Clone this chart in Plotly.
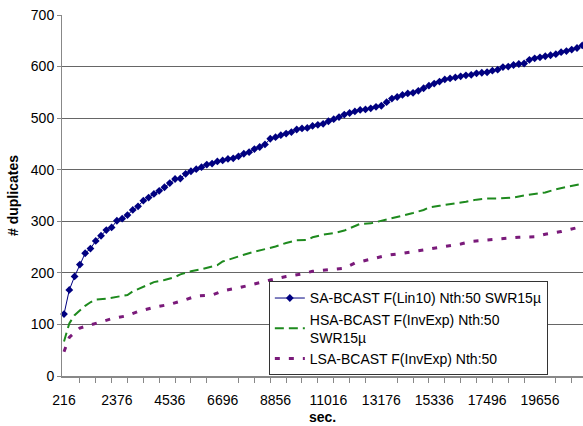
import plotly.graph_objects as go

STEP = 216

# SA-BCAST: one value per category (216 s steps, k = 1..99)
sa_values = [120, 167, 193, 216, 238, 247, 262, 272, 283, 288,
             301, 305, 312, 322, 329, 340, 346, 353, 359, 366,
             374, 382, 383, 392, 397, 401, 405, 410, 412, 416,
             418, 421, 422, 426, 431, 434, 440, 444, 449, 460,
             463, 467, 470, 473, 478, 480, 481, 485, 487, 489,
             494, 498, 502, 507, 510, 513, 516, 517, 519, 522,
             524, 531, 538, 541, 545, 548, 549, 553, 558, 563,
             567, 571, 575, 577, 579, 581, 583, 584, 587, 588,
             589, 592, 594, 599, 600, 603, 605, 606, 613, 616,
             618, 620, 622, 624, 628, 630, 633, 636, 641]
sa_x = [STEP * (i + 1) for i in range(len(sa_values))]

# HSA-BCAST: (category index, value)
hsa_k = [1, 2, 3, 5, 6, 7, 9, 11, 13, 14, 16, 18, 20, 22, 23, 25, 27, 30, 31, 33,
         35, 37, 39, 41, 43, 45, 47, 48, 50, 52, 54, 56, 57, 59, 61, 63, 65, 67, 69, 70,
         72, 75, 77, 79, 81, 83, 86, 88, 90, 92, 94, 96, 98, 99]
hsa_values = [67, 102, 118, 136, 143, 148, 150, 154, 157, 164, 173, 182, 186, 192, 197, 203, 207, 215, 222, 229,
              235, 241, 246, 251, 258, 263, 264, 269, 274, 277, 282, 290, 295, 296, 301, 305, 311, 316, 322, 327,
              330, 334, 338, 342, 344, 344, 346, 350, 353, 356, 362, 366, 371, 373]
hsa_x = [STEP * k for k in hsa_k]

# LSA-BCAST: (category index, value)
lsa_k = [1, 2, 4, 7, 10, 13, 15, 18, 21, 24, 26, 29, 31, 34, 37, 40, 43, 46, 48, 51,
         54, 56, 59, 62, 65, 68, 71, 73, 76, 78, 81, 84, 87, 90, 92, 95, 98, 99]
lsa_values = [47, 75, 93, 102, 111, 117, 125, 133, 139, 148, 155, 157, 165, 171, 179, 186, 193, 198, 203, 206,
              209, 219, 227, 234, 238, 243, 249, 251, 256, 261, 264, 266, 269, 270, 275, 280, 288, 290]
lsa_x = [STEP * k for k in lsa_k]

names = ["SA-BCAST F(Lin10) Nth:50 SWR15µ",
         "HSA-BCAST F(InvExp) Nth:50<br>SWR15µ",
         "LSA-BCAST F(InvExp) Nth:50"]

FONT = "Liberation Sans, Arial, sans-serif"

fig = go.Figure()
fig.add_trace(go.Scatter(
    x=sa_x, y=sa_values, name=names[0], mode="lines+markers",
    line=dict(color="#000080", width=1),
    marker=dict(symbol="diamond", size=6, color="#000080"),
    cliponaxis=False))
fig.add_trace(go.Scatter(
    x=hsa_x, y=hsa_values, name=names[1], mode="lines",
    line=dict(color="#1e8a1e", width=2, dash="9px,5px")))
fig.add_trace(go.Scatter(
    x=lsa_x, y=lsa_values, name=names[2], mode="lines",
    line=dict(color="#7a1a7a", width=3, dash="5px,9px")))

fig.update_layout(
    width=583, height=426,
    margin=dict(l=62, r=0, t=15, b=50, autoexpand=False),
    paper_bgcolor="white", plot_bgcolor="white",
    font=dict(family=FONT, size=14, color="black"),
    showlegend=True,
    legend=dict(x=0.397, y=0.262, xanchor="left", yanchor="top",
                bgcolor="white", bordercolor="#333333", borderwidth=1,
                font=dict(family=FONT, size=14), tracegroupgap=0,
                itemsizing="trace"),
    xaxis=dict(
        range=[134, 21413], automargin=False,
        tickmode="linear", tick0=216, dtick=2160, tickformat="d",
        ticks="", ticklabelstandoff=10,
        showgrid=False, zeroline=False,
        showline=True, linecolor="#888888", linewidth=2,
        minor=dict(tick0=216, dtick=648, ticks="outside", ticklen=5,
                   tickcolor="#888888", showgrid=False),
        title=dict(text="<b>sec.</b>", standoff=5, font=dict(size=14)),
    ),
    yaxis=dict(
        range=[0, 700], automargin=False,
        tickmode="linear", tick0=0, dtick=100,
        ticks="outside", ticklen=4, tickcolor="#888888",
        showgrid=True, gridcolor="#666666", gridwidth=1,
        zeroline=False, showline=True, linecolor="#888888", linewidth=1,
        title=dict(text="<b># duplicates</b>", standoff=8, font=dict(size=14)),
    ),
)

fig.write_html("out.html",
               config={"displayModeBar": False},
               post_script="document.body.style.margin='0';document.body.style.padding='0';")
